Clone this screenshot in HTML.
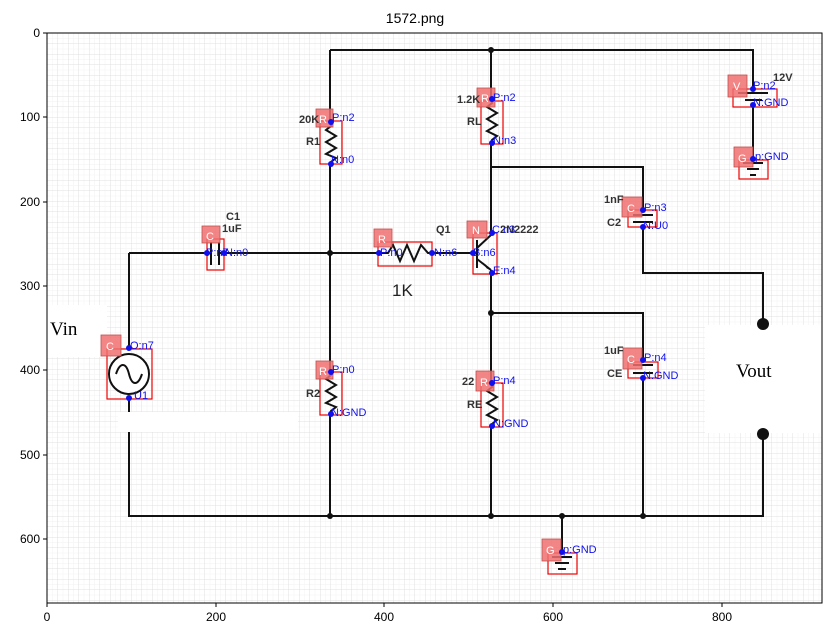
<!DOCTYPE html>
<html><head><meta charset="utf-8"><style>
html,body{margin:0;padding:0;background:#fff;}
svg{display:block;font-family:"Liberation Sans","DejaVu Sans",sans-serif;}
.w{stroke:#111;stroke-width:2;fill:none}
.rb{fill:none;stroke:#e00;stroke-width:1.2}
.lb{fill:#f07070;fill-opacity:.85;stroke:#c05050;stroke-width:.8}
.lt{fill:#fff;font-size:11px}
.bl{fill:#1010ee;font-size:11px}
.dk{fill:#333;font-size:11px;font-weight:bold}
.bd{fill:#1010ee}
.jd{fill:#111}
.tk{font-size:12px;fill:#000}
</style></head><body>
<svg width="831" height="638" viewBox="0 0 831 638">
<defs>
<pattern id="g1" x="47" y="33" width="5.25" height="5.25" patternUnits="userSpaceOnUse"><path d="M0 0H5.25M0 0V5.25" stroke="#f2f2f2" stroke-width="1"/></pattern>
<pattern id="g2" x="47" y="33" width="10.5" height="10.5" patternUnits="userSpaceOnUse"><path d="M0 0H10.5M0 0V10.5" stroke="#e0e0e0" stroke-width="1"/></pattern>
</defs>
<text x="415" y="23" text-anchor="middle" font-size="14">1572.png</text>
<g>
<rect x="47" y="33" width="775" height="570" fill="#fff"/>
<rect x="47" y="33" width="775" height="570" fill="url(#g1)"/>
<rect x="47" y="33" width="775" height="570" fill="url(#g2)"/>
<rect x="47" y="305" width="60" height="52" fill="#fff"/>
<text x="50" y="335" font-family="Liberation Serif,serif" font-size="19">Vin</text>
<rect x="118" y="412" width="180" height="20" fill="#fff"/>
<rect x="705" y="325" width="117" height="108" fill="#fff"/>
<text x="736" y="377" font-family="Liberation Serif,serif" font-size="19">Vout</text>
</g>
<g>
<path class="w" d="M330 50H753V89M753 105V159"/>
<path class="w" d="M491 50V99M491 143V235M491 270V383M491 426V516"/>
<path class="w" d="M330 50V122M330 164V371M330 413V516"/>
<path class="w" d="M491 167H643V210M643 227V273H763V324"/>
<path class="w" d="M491 313H643V360M643 378V516"/>
<path class="w" d="M129 253H211M219 253H379M432 253H473"/>
<path class="w" d="M129 253V348M129 398V412M129 432V516H763V434"/>
<path class="w" d="M562 516V552"/>
</g>
<g>
<circle class="jd" cx="491" cy="50" r="3"/><circle class="jd" cx="330" cy="253" r="3"/>
<circle class="jd" cx="330" cy="516" r="3"/><circle class="jd" cx="491" cy="516" r="3"/>
<circle class="jd" cx="643" cy="516" r="3"/><circle class="jd" cx="491" cy="313" r="3"/>
<circle class="jd" cx="562" cy="516" r="3"/>
<circle class="jd" cx="763" cy="324" r="6"/>
<circle class="jd" cx="763" cy="434" r="6"/>
</g>
<g>
<polyline class="w" points="331,122 331,126 326,130 336,136 326,142 336,148 326,154 336,158 331,162 331,164"/>
<rect class="rb" x="320" y="121" width="22" height="43"/>
<rect class="lb" x="316" y="109" width="17" height="18"/><text class="lt" x="319" y="123">R</text>
<circle class="bd" cx="331" cy="122" r="3"/><circle class="bd" cx="331" cy="164" r="3"/>
<text class="bl" x="332" y="121">P:n2</text><text class="bl" x="331" y="163">N:n0</text>
<text class="dk" x="299" y="123">20K</text><text class="dk" x="306" y="145">R1</text>
</g>
<g>
<polyline class="w" points="492,99 492,103 487,107 497,113 487,119 497,125 487,131 497,136 492,140 492,143"/>
<rect class="rb" x="481" y="101" width="22" height="43"/>
<rect class="lb" x="477" y="88" width="18" height="19"/><text class="lt" x="481" y="102">R</text>
<circle class="bd" cx="492" cy="99" r="3"/><circle class="bd" cx="492" cy="143" r="3"/>
<text class="bl" x="493" y="101">P:n2</text><text class="bl" x="493" y="144">N:n3</text>
<text class="dk" x="457" y="103">1.2K</text><text class="dk" x="467" y="125">RL</text>
</g>
<g>
<polyline class="w" points="331,371 331,375 326,379 336,385 326,391 336,397 326,403 336,407 331,411 331,413"/>
<rect class="rb" x="320" y="372" width="22" height="43"/>
<rect class="lb" x="316" y="361" width="17" height="18"/><text class="lt" x="319" y="375">R</text>
<circle class="bd" cx="331" cy="372" r="3"/><circle class="bd" cx="331" cy="414" r="3"/>
<text class="bl" x="332" y="373">P:n0</text><text class="bl" x="331" y="416">N:GND</text>
<text class="dk" x="306" y="397">R2</text>
</g>
<g>
<polyline class="w" points="492,383 492,387 487,391 497,397 487,403 497,409 487,415 497,420 492,424 492,426"/>
<rect class="rb" x="481" y="383" width="22" height="44"/>
<rect class="lb" x="476" y="371" width="18" height="20"/><text class="lt" x="480" y="386">R</text>
<circle class="bd" cx="492" cy="383" r="3"/><circle class="bd" cx="492" cy="426" r="3"/>
<text class="bl" x="493" y="384">P:n4</text><text class="bl" x="493" y="427">N:GND</text>
<text class="dk" x="462" y="385">22</text><text class="dk" x="467" y="408">RE</text>
</g>
<g>
<polyline class="w" points="379,253 388,253 393,245 400,261 407,245 414,261 421,245 428,253 432,253"/>
<rect class="rb" x="378" y="242" width="54" height="24"/>
<rect class="lb" x="374" y="229" width="18" height="18"/><text class="lt" x="378" y="243">R</text>
<circle class="bd" cx="379" cy="253" r="3"/><circle class="bd" cx="432" cy="253" r="3"/>
<text class="bl" x="380" y="256">P:n0</text><text class="bl" x="434" y="256">N:n6</text>
<text x="392" y="296" font-size="17" fill="#222">1K</text>
</g>
<g>
<path class="w" d="M473 253H477M477 240V268M477 248L491 235M477 259L491 270"/>
<path d="M491 270L483 263L487 268Z" fill="#111" stroke="#111"/>
<rect class="rb" x="473" y="233" width="24" height="41"/>
<rect class="lb" x="467" y="221" width="20" height="17"/><text class="lt" x="472" y="234">N</text>
<circle class="bd" cx="492" cy="233" r="3"/><circle class="bd" cx="473" cy="253" r="3"/><circle class="bd" cx="492" cy="273" r="3"/>
<text class="dk" x="436" y="233">Q1</text><text class="dk" x="500" y="233">2N2222</text>
<text class="bl" x="492" y="233">C:n3</text><text class="bl" x="473" y="256">B:n6</text><text class="bl" x="493" y="274">E:n4</text>
</g>
<g>
<path class="w" d="M211 242V265M219 242V265"/>
<rect class="rb" x="207" y="239" width="17" height="31"/>
<rect class="lb" x="202" y="226" width="18" height="17"/><text class="lt" x="206" y="240">C</text>
<circle class="bd" cx="207" cy="253" r="3"/><circle class="bd" cx="224" cy="253" r="3"/>
<text class="bl" x="206" y="256">P:n7</text><text class="bl" x="225" y="256">N:n0</text>
<text class="dk" x="226" y="220">C1</text><text class="dk" x="222" y="232">1uF</text>
</g>
<g>
<path class="w" d="M633 215H653M633 222H653"/>
<rect class="rb" x="628" y="210" width="29" height="17"/>
<rect class="lb" x="622" y="197" width="20" height="20"/><text class="lt" x="627" y="212">C</text>
<circle class="bd" cx="643" cy="210" r="3"/><circle class="bd" cx="643" cy="227" r="3"/>
<text class="bl" x="644" y="211">P:n3</text><text class="bl" x="643" y="229">N:U0</text>
<text class="dk" x="604" y="203">1nF</text><text class="dk" x="607" y="226">C2</text>
</g>
<g>
<path class="w" d="M633 365H653M633 373H653"/>
<rect class="rb" x="628" y="362" width="30" height="16"/>
<rect class="lb" x="623" y="348" width="19" height="21"/><text class="lt" x="627" y="363">C</text>
<circle class="bd" cx="643" cy="360" r="3"/><circle class="bd" cx="643" cy="378" r="3"/>
<text class="bl" x="644" y="361">P:n4</text><text class="bl" x="643" y="379">N:GND</text>
<text class="dk" x="604" y="354">1uF</text><text class="dk" x="607" y="377">CE</text>
</g>
<g>
<circle cx="129" cy="374" r="20" fill="#fff" stroke="#111" stroke-width="2"/>
<path d="M116 374C120 362 126 362 129 374S138 386 142 374" fill="none" stroke="#111" stroke-width="2"/>
<rect class="rb" x="107" y="349" width="45" height="50"/>
<rect class="lb" x="101" y="335" width="20" height="21"/><text class="lt" x="106" y="350">C</text>
<circle class="bd" cx="129" cy="348" r="3"/><circle class="bd" cx="129" cy="398" r="3"/>
<text class="bl" x="130" y="349">O:n7</text><text class="bl" x="134" y="399">U1</text>
</g>
<g>
<path class="w" d="M738 93H768M745 100H762"/>
<rect class="rb" x="733" y="89" width="44" height="18"/>
<rect class="lb" x="728" y="75" width="19" height="22"/><text class="lt" x="733" y="90">V</text>
<circle class="bd" cx="753" cy="89" r="3"/><circle class="bd" cx="753" cy="105" r="3"/>
<text class="bl" x="753" y="89">P:n2</text><text class="bl" x="753" y="106">N:GND</text>
<text class="dk" x="773" y="81">12V</text>
</g>
<g>
<path class="w" d="M743 163H763M747 169H759M750 175H756" stroke-width="1.5"/>
<rect class="rb" x="739" y="160" width="29" height="19"/>
<rect class="lb" x="734" y="147" width="19" height="20"/><text class="lt" x="738" y="162">G</text>
<circle class="bd" cx="753" cy="159" r="3"/>
<text class="bl" x="755" y="160">p:GND</text>
</g>
<g>
<path class="w" d="M552 557H572M555 563H569M558 569H566" stroke-width="1.5"/>
<rect class="rb" x="548" y="553" width="29" height="21"/>
<rect class="lb" x="542" y="539" width="19" height="22"/><text class="lt" x="546" y="554">G</text>
<circle class="bd" cx="562" cy="552" r="3"/>
<text class="bl" x="563" y="553">p:GND</text>
</g>
<rect x="47" y="33" width="775" height="570" fill="none" stroke="#000" stroke-width="1"/>
<g stroke="#000">
<path d="M47 603v4M216 603v4M384 603v4M553 603v4M722 603v4"/>
</g>
<g class="tk" text-anchor="middle">
<text x="47" y="621">0</text><text x="216" y="621">200</text><text x="384" y="621">400</text><text x="553" y="621">600</text><text x="722" y="621">800</text>
</g>
<g stroke="#000">
<path d="M43 33h4M43 117h4M43 202h4M43 286h4M43 370h4M43 455h4M43 539h4"/>
</g>
<g class="tk" text-anchor="end">
<text x="40" y="37">0</text><text x="40" y="121">100</text><text x="40" y="206">200</text><text x="40" y="290">300</text><text x="40" y="374">400</text><text x="40" y="459">500</text><text x="40" y="543">600</text>
</g>
</svg>
</body></html>
